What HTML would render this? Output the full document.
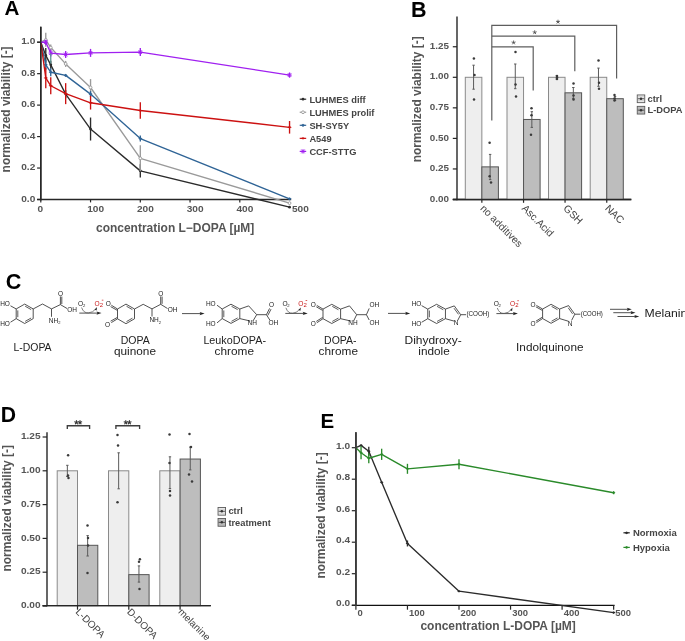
<!DOCTYPE html>
<html><head><meta charset="utf-8"><title>Figure</title>
<style>
html,body{margin:0;padding:0;background:#fff;overflow:hidden;}
svg{display:block;will-change:transform;}
text{font-family:"Liberation Sans", sans-serif;}
</style></head>
<body>
<svg width="685" height="641" viewBox="0 0 685 641">
<rect x="0" y="0" width="685" height="641" fill="#fff"/>
<text x="4.40" y="14.90" font-size="20.6" font-weight="bold" fill="#000">A</text>
<line x1="40.80" y1="26.70" x2="40.80" y2="200.20" stroke="#262626" stroke-width="1.4"/>
<line x1="37.10" y1="199.50" x2="291.20" y2="199.50" stroke="#262626" stroke-width="1.4"/>
<line x1="37.10" y1="199.50" x2="40.80" y2="199.50" stroke="#262626" stroke-width="1.2"/>
<text x="35.30" y="201.50" font-size="9.2" font-weight="bold" fill="#555" text-anchor="end" textLength="14.07" lengthAdjust="spacingAndGlyphs">0.0</text>
<line x1="37.10" y1="168.04" x2="40.80" y2="168.04" stroke="#262626" stroke-width="1.2"/>
<text x="35.30" y="170.04" font-size="9.2" font-weight="bold" fill="#555" text-anchor="end" textLength="14.07" lengthAdjust="spacingAndGlyphs">0.2</text>
<line x1="37.10" y1="136.58" x2="40.80" y2="136.58" stroke="#262626" stroke-width="1.2"/>
<text x="35.30" y="138.58" font-size="9.2" font-weight="bold" fill="#555" text-anchor="end" textLength="14.07" lengthAdjust="spacingAndGlyphs">0.4</text>
<line x1="37.10" y1="105.12" x2="40.80" y2="105.12" stroke="#262626" stroke-width="1.2"/>
<text x="35.30" y="107.12" font-size="9.2" font-weight="bold" fill="#555" text-anchor="end" textLength="14.07" lengthAdjust="spacingAndGlyphs">0.6</text>
<line x1="37.10" y1="73.66" x2="40.80" y2="73.66" stroke="#262626" stroke-width="1.2"/>
<text x="35.30" y="75.66" font-size="9.2" font-weight="bold" fill="#555" text-anchor="end" textLength="14.07" lengthAdjust="spacingAndGlyphs">0.8</text>
<line x1="37.10" y1="42.20" x2="40.80" y2="42.20" stroke="#262626" stroke-width="1.2"/>
<text x="35.30" y="44.20" font-size="9.2" font-weight="bold" fill="#555" text-anchor="end" textLength="14.07" lengthAdjust="spacingAndGlyphs">1.0</text>
<line x1="40.80" y1="199.50" x2="40.80" y2="202.40" stroke="#262626" stroke-width="1.2"/>
<text x="37.50" y="212.30" font-size="9.2" font-weight="bold" fill="#555" textLength="5.63" lengthAdjust="spacingAndGlyphs">0</text>
<line x1="90.55" y1="199.50" x2="90.55" y2="202.40" stroke="#262626" stroke-width="1.2"/>
<text x="87.25" y="212.30" font-size="9.2" font-weight="bold" fill="#555" textLength="16.88" lengthAdjust="spacingAndGlyphs">100</text>
<line x1="140.30" y1="199.50" x2="140.30" y2="202.40" stroke="#262626" stroke-width="1.2"/>
<text x="137.00" y="212.30" font-size="9.2" font-weight="bold" fill="#555" textLength="16.88" lengthAdjust="spacingAndGlyphs">200</text>
<line x1="190.05" y1="199.50" x2="190.05" y2="202.40" stroke="#262626" stroke-width="1.2"/>
<text x="186.75" y="212.30" font-size="9.2" font-weight="bold" fill="#555" textLength="16.88" lengthAdjust="spacingAndGlyphs">300</text>
<line x1="239.80" y1="199.50" x2="239.80" y2="202.40" stroke="#262626" stroke-width="1.2"/>
<text x="236.50" y="212.30" font-size="9.2" font-weight="bold" fill="#555" textLength="16.88" lengthAdjust="spacingAndGlyphs">400</text>
<text x="291.90" y="212.30" font-size="9.2" font-weight="bold" fill="#555" textLength="16.88" lengthAdjust="spacingAndGlyphs">500</text>
<text x="96.00" y="231.70" font-size="12" font-weight="bold" fill="#555" textLength="158.3" lengthAdjust="spacingAndGlyphs">concentration L−DOPA [µM]</text>
<text x="0.00" y="0.00" font-size="12" font-weight="bold" fill="#555" text-anchor="middle" textLength="126" lengthAdjust="spacingAndGlyphs" transform="translate(10.3,109.4) rotate(-90)">normalized viability [-]</text>
<polyline points="40.80,42.20 45.77,55.41 50.75,64.85 65.67,94.11 90.55,129.03 140.30,170.87 289.55,207.21" fill="none" stroke="#2b2b2b" stroke-width="1.35" stroke-linejoin="round"/>
<line x1="45.77" y1="48.11" x2="45.77" y2="62.71" stroke="#2b2b2b" stroke-width="1.35"/>
<line x1="50.75" y1="60.85" x2="50.75" y2="68.85" stroke="#2b2b2b" stroke-width="1.35"/>
<line x1="65.67" y1="90.11" x2="65.67" y2="98.11" stroke="#2b2b2b" stroke-width="1.35"/>
<line x1="90.55" y1="117.53" x2="90.55" y2="140.53" stroke="#2b2b2b" stroke-width="1.35"/>
<line x1="140.30" y1="164.27" x2="140.30" y2="177.47" stroke="#2b2b2b" stroke-width="1.35"/>
<circle cx="45.77" cy="55.41" r="1.4" fill="#2b2b2b" stroke="none" stroke-width="0"/>
<circle cx="50.75" cy="64.85" r="1.4" fill="#2b2b2b" stroke="none" stroke-width="0"/>
<circle cx="65.67" cy="94.11" r="1.4" fill="#2b2b2b" stroke="none" stroke-width="0"/>
<circle cx="90.55" cy="129.03" r="1.4" fill="#2b2b2b" stroke="none" stroke-width="0"/>
<circle cx="140.30" cy="170.87" r="1.4" fill="#2b2b2b" stroke="none" stroke-width="0"/>
<circle cx="289.55" cy="207.21" r="1.4" fill="#2b2b2b" stroke="none" stroke-width="0"/>
<polyline points="40.80,42.20 45.77,39.84 50.75,47.55 65.67,63.91 90.55,87.50 140.30,158.29 289.55,203.12" fill="none" stroke="#9a9a9a" stroke-width="1.35" stroke-linejoin="round"/>
<line x1="45.77" y1="32.84" x2="45.77" y2="46.84" stroke="#9a9a9a" stroke-width="1.35"/>
<line x1="50.75" y1="44.55" x2="50.75" y2="50.55" stroke="#9a9a9a" stroke-width="1.35"/>
<line x1="65.67" y1="60.91" x2="65.67" y2="66.91" stroke="#9a9a9a" stroke-width="1.35"/>
<line x1="90.55" y1="79.10" x2="90.55" y2="95.90" stroke="#9a9a9a" stroke-width="1.35"/>
<line x1="140.30" y1="145.29" x2="140.30" y2="171.29" stroke="#9a9a9a" stroke-width="1.35"/>
<circle cx="45.77" cy="39.84" r="1.4" fill="#fff" stroke="#9a9a9a" stroke-width="0.9"/>
<circle cx="50.75" cy="47.55" r="1.4" fill="#fff" stroke="#9a9a9a" stroke-width="0.9"/>
<circle cx="65.67" cy="63.91" r="1.4" fill="#fff" stroke="#9a9a9a" stroke-width="0.9"/>
<circle cx="90.55" cy="87.50" r="1.4" fill="#fff" stroke="#9a9a9a" stroke-width="0.9"/>
<circle cx="140.30" cy="158.29" r="1.4" fill="#fff" stroke="#9a9a9a" stroke-width="0.9"/>
<circle cx="289.55" cy="203.12" r="1.4" fill="#fff" stroke="#9a9a9a" stroke-width="0.9"/>
<polyline points="40.80,42.20 45.77,64.85 50.75,72.24 65.67,75.39 90.55,94.11 140.30,138.62 289.55,198.87" fill="none" stroke="#2f6496" stroke-width="1.35" stroke-linejoin="round"/>
<line x1="45.77" y1="59.85" x2="45.77" y2="69.85" stroke="#2f6496" stroke-width="1.35"/>
<line x1="50.75" y1="68.24" x2="50.75" y2="76.24" stroke="#2f6496" stroke-width="1.35"/>
<line x1="65.67" y1="74.39" x2="65.67" y2="76.39" stroke="#2f6496" stroke-width="1.35"/>
<line x1="90.55" y1="91.11" x2="90.55" y2="97.11" stroke="#2f6496" stroke-width="1.35"/>
<line x1="140.30" y1="135.62" x2="140.30" y2="141.62" stroke="#2f6496" stroke-width="1.35"/>
<path d="M43.77,64.85 L45.77,63.25 L47.77,64.85 L45.77,66.45Z" fill="#2f6496"/>
<path d="M48.75,72.24 L50.75,70.64 L52.75,72.24 L50.75,73.84Z" fill="#2f6496"/>
<path d="M63.67,75.39 L65.67,73.79 L67.67,75.39 L65.67,76.99Z" fill="#2f6496"/>
<path d="M88.55,94.11 L90.55,92.51 L92.55,94.11 L90.55,95.71Z" fill="#2f6496"/>
<path d="M138.30,138.62 L140.30,137.02 L142.30,138.62 L140.30,140.22Z" fill="#2f6496"/>
<path d="M287.55,198.87 L289.55,197.27 L291.55,198.87 L289.55,200.47Z" fill="#2f6496"/>
<polyline points="40.80,42.20 45.77,77.91 50.75,85.77 65.67,93.64 90.55,102.76 140.30,110.47 289.55,127.30" fill="none" stroke="#cc1111" stroke-width="1.35" stroke-linejoin="round"/>
<line x1="45.77" y1="67.61" x2="45.77" y2="88.21" stroke="#cc1111" stroke-width="1.35"/>
<line x1="50.75" y1="77.27" x2="50.75" y2="94.27" stroke="#cc1111" stroke-width="1.35"/>
<line x1="65.67" y1="83.14" x2="65.67" y2="104.14" stroke="#cc1111" stroke-width="1.35"/>
<line x1="90.55" y1="95.96" x2="90.55" y2="109.56" stroke="#cc1111" stroke-width="1.35"/>
<line x1="140.30" y1="102.27" x2="140.30" y2="118.67" stroke="#cc1111" stroke-width="1.35"/>
<line x1="289.55" y1="121.00" x2="289.55" y2="133.60" stroke="#cc1111" stroke-width="1.35"/>
<path d="M43.57,77.91 L45.77,76.71 L47.98,77.91 L45.77,79.11Z" fill="#cc1111"/>
<path d="M48.55,85.77 L50.75,84.57 L52.95,85.77 L50.75,86.97Z" fill="#cc1111"/>
<path d="M63.47,93.64 L65.67,92.44 L67.88,93.64 L65.67,94.84Z" fill="#cc1111"/>
<path d="M88.35,102.76 L90.55,101.56 L92.75,102.76 L90.55,103.96Z" fill="#cc1111"/>
<path d="M138.10,110.47 L140.30,109.27 L142.50,110.47 L140.30,111.67Z" fill="#cc1111"/>
<path d="M287.35,127.30 L289.55,126.10 L291.75,127.30 L289.55,128.50Z" fill="#cc1111"/>
<polyline points="40.80,42.20 45.77,42.20 50.75,53.05 65.67,54.47 90.55,52.90 140.30,52.11 289.55,75.08" fill="none" stroke="#a020f0" stroke-width="1.35" stroke-linejoin="round"/>
<line x1="45.77" y1="39.70" x2="45.77" y2="44.70" stroke="#a020f0" stroke-width="1.35"/>
<line x1="50.75" y1="49.55" x2="50.75" y2="56.55" stroke="#a020f0" stroke-width="1.35"/>
<line x1="65.67" y1="50.97" x2="65.67" y2="57.97" stroke="#a020f0" stroke-width="1.35"/>
<line x1="90.55" y1="48.90" x2="90.55" y2="56.90" stroke="#a020f0" stroke-width="1.35"/>
<line x1="140.30" y1="48.11" x2="140.30" y2="56.11" stroke="#a020f0" stroke-width="1.35"/>
<line x1="289.55" y1="72.58" x2="289.55" y2="77.58" stroke="#a020f0" stroke-width="1.35"/>
<line x1="43.48" y1="42.20" x2="48.07" y2="42.20" stroke="#a020f0" stroke-width="0.9"/>
<line x1="45.77" y1="39.90" x2="45.77" y2="44.50" stroke="#a020f0" stroke-width="0.9"/>
<line x1="44.07" y1="40.30" x2="47.48" y2="44.10" stroke="#a020f0" stroke-width="0.9"/>
<line x1="44.07" y1="44.10" x2="47.48" y2="40.30" stroke="#a020f0" stroke-width="0.9"/>
<line x1="48.45" y1="53.05" x2="53.05" y2="53.05" stroke="#a020f0" stroke-width="0.9"/>
<line x1="50.75" y1="50.75" x2="50.75" y2="55.35" stroke="#a020f0" stroke-width="0.9"/>
<line x1="49.05" y1="51.15" x2="52.45" y2="54.95" stroke="#a020f0" stroke-width="0.9"/>
<line x1="49.05" y1="54.95" x2="52.45" y2="51.15" stroke="#a020f0" stroke-width="0.9"/>
<line x1="63.38" y1="54.47" x2="67.97" y2="54.47" stroke="#a020f0" stroke-width="0.9"/>
<line x1="65.67" y1="52.17" x2="65.67" y2="56.77" stroke="#a020f0" stroke-width="0.9"/>
<line x1="63.97" y1="52.57" x2="67.38" y2="56.37" stroke="#a020f0" stroke-width="0.9"/>
<line x1="63.97" y1="56.37" x2="67.38" y2="52.57" stroke="#a020f0" stroke-width="0.9"/>
<line x1="88.25" y1="52.90" x2="92.85" y2="52.90" stroke="#a020f0" stroke-width="0.9"/>
<line x1="90.55" y1="50.60" x2="90.55" y2="55.20" stroke="#a020f0" stroke-width="0.9"/>
<line x1="88.85" y1="51.00" x2="92.25" y2="54.80" stroke="#a020f0" stroke-width="0.9"/>
<line x1="88.85" y1="54.80" x2="92.25" y2="51.00" stroke="#a020f0" stroke-width="0.9"/>
<line x1="138.00" y1="52.11" x2="142.60" y2="52.11" stroke="#a020f0" stroke-width="0.9"/>
<line x1="140.30" y1="49.81" x2="140.30" y2="54.41" stroke="#a020f0" stroke-width="0.9"/>
<line x1="138.60" y1="50.21" x2="142.00" y2="54.01" stroke="#a020f0" stroke-width="0.9"/>
<line x1="138.60" y1="54.01" x2="142.00" y2="50.21" stroke="#a020f0" stroke-width="0.9"/>
<line x1="287.25" y1="75.08" x2="291.85" y2="75.08" stroke="#a020f0" stroke-width="0.9"/>
<line x1="289.55" y1="72.78" x2="289.55" y2="77.38" stroke="#a020f0" stroke-width="0.9"/>
<line x1="287.85" y1="73.18" x2="291.25" y2="76.98" stroke="#a020f0" stroke-width="0.9"/>
<line x1="287.85" y1="76.98" x2="291.25" y2="73.18" stroke="#a020f0" stroke-width="0.9"/>
<line x1="50.75" y1="53.60" x2="50.75" y2="63.40" stroke="#5f9595" stroke-width="1.3"/>
<line x1="40.80" y1="26.70" x2="40.80" y2="200.20" stroke="#262626" stroke-width="1.4"/>
<line x1="37.10" y1="42.20" x2="40.80" y2="42.20" stroke="#262626" stroke-width="1.2"/>
<line x1="299.70" y1="99.20" x2="306.20" y2="99.20" stroke="#2b2b2b" stroke-width="1.2"/>
<circle cx="303.00" cy="99.20" r="1.4" fill="#2b2b2b" stroke="none" stroke-width="0"/>
<text x="309.40" y="102.50" font-size="9.3" font-weight="bold" fill="#444">LUHMES diff</text>
<line x1="299.70" y1="112.25" x2="306.20" y2="112.25" stroke="#9a9a9a" stroke-width="1.2"/>
<circle cx="303.00" cy="112.25" r="1.4" fill="#fff" stroke="#9a9a9a" stroke-width="0.9"/>
<text x="309.40" y="115.55" font-size="9.3" font-weight="bold" fill="#444">LUHMES prolif</text>
<line x1="299.70" y1="125.30" x2="306.20" y2="125.30" stroke="#2f6496" stroke-width="1.2"/>
<path d="M301.00,125.30 L303.00,123.70 L305.00,125.30 L303.00,126.90Z" fill="#2f6496"/>
<text x="309.40" y="128.60" font-size="9.3" font-weight="bold" fill="#444">SH-SY5Y</text>
<line x1="299.70" y1="138.35" x2="306.20" y2="138.35" stroke="#cc1111" stroke-width="1.2"/>
<path d="M300.80,138.35 L303.00,137.15 L305.20,138.35 L303.00,139.55Z" fill="#cc1111"/>
<text x="309.40" y="141.65" font-size="9.3" font-weight="bold" fill="#444">A549</text>
<line x1="299.70" y1="151.40" x2="306.20" y2="151.40" stroke="#a020f0" stroke-width="1.2"/>
<line x1="300.70" y1="151.40" x2="305.30" y2="151.40" stroke="#a020f0" stroke-width="0.9"/>
<line x1="303.00" y1="149.10" x2="303.00" y2="153.70" stroke="#a020f0" stroke-width="0.9"/>
<line x1="301.30" y1="149.50" x2="304.70" y2="153.30" stroke="#a020f0" stroke-width="0.9"/>
<line x1="301.30" y1="153.30" x2="304.70" y2="149.50" stroke="#a020f0" stroke-width="0.9"/>
<text x="309.40" y="154.70" font-size="9.3" font-weight="bold" fill="#444">CCF-STTG</text>
<text x="411.00" y="17.00" font-size="21.5" font-weight="bold" fill="#000">B</text>
<line x1="457.00" y1="16.40" x2="457.00" y2="200.20" stroke="#262626" stroke-width="1.4"/>
<line x1="452.80" y1="199.50" x2="631.30" y2="199.50" stroke="#262626" stroke-width="1.4"/>
<line x1="452.80" y1="199.50" x2="457.00" y2="199.50" stroke="#262626" stroke-width="1.2"/>
<text x="448.90" y="201.60" font-size="9.2" font-weight="bold" fill="#555" text-anchor="end" textLength="19.16" lengthAdjust="spacingAndGlyphs">0.00</text>
<line x1="452.80" y1="168.95" x2="457.00" y2="168.95" stroke="#262626" stroke-width="1.2"/>
<text x="448.90" y="171.05" font-size="9.2" font-weight="bold" fill="#555" text-anchor="end" textLength="19.16" lengthAdjust="spacingAndGlyphs">0.25</text>
<line x1="452.80" y1="138.40" x2="457.00" y2="138.40" stroke="#262626" stroke-width="1.2"/>
<text x="448.90" y="140.50" font-size="9.2" font-weight="bold" fill="#555" text-anchor="end" textLength="19.16" lengthAdjust="spacingAndGlyphs">0.50</text>
<line x1="452.80" y1="107.85" x2="457.00" y2="107.85" stroke="#262626" stroke-width="1.2"/>
<text x="448.90" y="109.95" font-size="9.2" font-weight="bold" fill="#555" text-anchor="end" textLength="19.16" lengthAdjust="spacingAndGlyphs">0.75</text>
<line x1="452.80" y1="77.30" x2="457.00" y2="77.30" stroke="#262626" stroke-width="1.2"/>
<text x="448.90" y="79.40" font-size="9.2" font-weight="bold" fill="#555" text-anchor="end" textLength="19.16" lengthAdjust="spacingAndGlyphs">1.00</text>
<line x1="452.80" y1="46.75" x2="457.00" y2="46.75" stroke="#262626" stroke-width="1.2"/>
<text x="448.90" y="48.85" font-size="9.2" font-weight="bold" fill="#555" text-anchor="end" textLength="19.16" lengthAdjust="spacingAndGlyphs">1.25</text>
<text x="0.00" y="0.00" font-size="12" font-weight="bold" fill="#555" text-anchor="middle" textLength="126" lengthAdjust="spacingAndGlyphs" transform="translate(421.0,99.3) rotate(-90)">normalized viability [-]</text>
<rect x="465.30" y="77.30" width="16.55" height="122.20" fill="#eeeeee" stroke="#8a8a8a" stroke-width="1.0"/>
<rect x="481.85" y="166.87" width="16.55" height="32.63" fill="#bdbdbd" stroke="#555555" stroke-width="1.0"/>
<rect x="507.00" y="77.30" width="16.55" height="122.20" fill="#eeeeee" stroke="#8a8a8a" stroke-width="1.0"/>
<rect x="523.55" y="119.46" width="16.55" height="80.04" fill="#bdbdbd" stroke="#555555" stroke-width="1.0"/>
<rect x="548.50" y="77.30" width="16.55" height="122.20" fill="#eeeeee" stroke="#8a8a8a" stroke-width="1.0"/>
<rect x="565.05" y="92.82" width="16.55" height="106.68" fill="#bdbdbd" stroke="#555555" stroke-width="1.0"/>
<rect x="590.20" y="77.30" width="16.55" height="122.20" fill="#eeeeee" stroke="#8a8a8a" stroke-width="1.0"/>
<rect x="606.75" y="98.69" width="16.55" height="100.81" fill="#bdbdbd" stroke="#555555" stroke-width="1.0"/>
<line x1="473.57" y1="65.20" x2="473.57" y2="89.20" stroke="#5a5a5a" stroke-width="1.0"/>
<line x1="472.38" y1="65.20" x2="474.77" y2="65.20" stroke="#5a5a5a" stroke-width="1.0"/>
<line x1="472.38" y1="89.20" x2="474.77" y2="89.20" stroke="#5a5a5a" stroke-width="1.0"/>
<line x1="490.12" y1="154.40" x2="490.12" y2="179.60" stroke="#5a5a5a" stroke-width="1.0"/>
<line x1="488.93" y1="154.40" x2="491.32" y2="154.40" stroke="#5a5a5a" stroke-width="1.0"/>
<line x1="488.93" y1="179.60" x2="491.32" y2="179.60" stroke="#5a5a5a" stroke-width="1.0"/>
<circle cx="473.90" cy="58.50" r="1.25" fill="#3a3a3a" stroke="none" stroke-width="0"/>
<circle cx="474.50" cy="74.90" r="1.25" fill="#3a3a3a" stroke="none" stroke-width="0"/>
<circle cx="474.00" cy="99.60" r="1.25" fill="#3a3a3a" stroke="none" stroke-width="0"/>
<circle cx="489.60" cy="142.70" r="1.25" fill="#3a3a3a" stroke="none" stroke-width="0"/>
<circle cx="489.60" cy="176.30" r="1.25" fill="#3a3a3a" stroke="none" stroke-width="0"/>
<circle cx="491.00" cy="182.60" r="1.25" fill="#3a3a3a" stroke="none" stroke-width="0"/>
<line x1="515.27" y1="64.00" x2="515.27" y2="88.70" stroke="#5a5a5a" stroke-width="1.0"/>
<line x1="514.07" y1="64.00" x2="516.48" y2="64.00" stroke="#5a5a5a" stroke-width="1.0"/>
<line x1="514.07" y1="88.70" x2="516.48" y2="88.70" stroke="#5a5a5a" stroke-width="1.0"/>
<line x1="531.83" y1="111.70" x2="531.83" y2="127.40" stroke="#5a5a5a" stroke-width="1.0"/>
<line x1="530.62" y1="111.70" x2="533.03" y2="111.70" stroke="#5a5a5a" stroke-width="1.0"/>
<line x1="530.62" y1="127.40" x2="533.03" y2="127.40" stroke="#5a5a5a" stroke-width="1.0"/>
<circle cx="515.50" cy="52.00" r="1.25" fill="#3a3a3a" stroke="none" stroke-width="0"/>
<circle cx="515.50" cy="84.60" r="1.25" fill="#3a3a3a" stroke="none" stroke-width="0"/>
<circle cx="516.00" cy="96.50" r="1.25" fill="#3a3a3a" stroke="none" stroke-width="0"/>
<circle cx="531.50" cy="108.30" r="1.25" fill="#3a3a3a" stroke="none" stroke-width="0"/>
<circle cx="531.50" cy="115.30" r="1.25" fill="#3a3a3a" stroke="none" stroke-width="0"/>
<circle cx="531.00" cy="134.70" r="1.25" fill="#3a3a3a" stroke="none" stroke-width="0"/>
<line x1="556.77" y1="75.80" x2="556.77" y2="79.00" stroke="#5a5a5a" stroke-width="1.0"/>
<line x1="555.57" y1="75.80" x2="557.98" y2="75.80" stroke="#5a5a5a" stroke-width="1.0"/>
<line x1="555.57" y1="79.00" x2="557.98" y2="79.00" stroke="#5a5a5a" stroke-width="1.0"/>
<line x1="573.33" y1="87.50" x2="573.33" y2="98.40" stroke="#5a5a5a" stroke-width="1.0"/>
<line x1="572.12" y1="87.50" x2="574.53" y2="87.50" stroke="#5a5a5a" stroke-width="1.0"/>
<line x1="572.12" y1="98.40" x2="574.53" y2="98.40" stroke="#5a5a5a" stroke-width="1.0"/>
<circle cx="557.00" cy="76.00" r="1.25" fill="#3a3a3a" stroke="none" stroke-width="0"/>
<circle cx="557.00" cy="77.50" r="1.25" fill="#3a3a3a" stroke="none" stroke-width="0"/>
<circle cx="557.00" cy="79.00" r="1.25" fill="#3a3a3a" stroke="none" stroke-width="0"/>
<circle cx="573.50" cy="83.40" r="1.25" fill="#3a3a3a" stroke="none" stroke-width="0"/>
<circle cx="573.50" cy="95.50" r="1.25" fill="#3a3a3a" stroke="none" stroke-width="0"/>
<circle cx="573.50" cy="99.60" r="1.25" fill="#3a3a3a" stroke="none" stroke-width="0"/>
<line x1="598.48" y1="68.10" x2="598.48" y2="86.30" stroke="#5a5a5a" stroke-width="1.0"/>
<line x1="597.27" y1="68.10" x2="599.68" y2="68.10" stroke="#5a5a5a" stroke-width="1.0"/>
<line x1="597.27" y1="86.30" x2="599.68" y2="86.30" stroke="#5a5a5a" stroke-width="1.0"/>
<line x1="615.03" y1="96.50" x2="615.03" y2="100.50" stroke="#5a5a5a" stroke-width="1.0"/>
<line x1="613.83" y1="96.50" x2="616.23" y2="96.50" stroke="#5a5a5a" stroke-width="1.0"/>
<line x1="613.83" y1="100.50" x2="616.23" y2="100.50" stroke="#5a5a5a" stroke-width="1.0"/>
<circle cx="598.50" cy="60.40" r="1.25" fill="#3a3a3a" stroke="none" stroke-width="0"/>
<circle cx="599.00" cy="82.70" r="1.25" fill="#3a3a3a" stroke="none" stroke-width="0"/>
<circle cx="599.00" cy="88.70" r="1.25" fill="#3a3a3a" stroke="none" stroke-width="0"/>
<circle cx="614.50" cy="95.00" r="1.25" fill="#3a3a3a" stroke="none" stroke-width="0"/>
<circle cx="614.50" cy="98.50" r="1.25" fill="#3a3a3a" stroke="none" stroke-width="0"/>
<circle cx="614.50" cy="100.50" r="1.25" fill="#3a3a3a" stroke="none" stroke-width="0"/>
<line x1="452.80" y1="199.50" x2="631.30" y2="199.50" stroke="#262626" stroke-width="1.4"/>
<line x1="481.85" y1="199.50" x2="481.85" y2="202.80" stroke="#262626" stroke-width="1.2"/>
<line x1="523.55" y1="199.50" x2="523.55" y2="202.80" stroke="#262626" stroke-width="1.2"/>
<line x1="565.05" y1="199.50" x2="565.05" y2="202.80" stroke="#262626" stroke-width="1.2"/>
<line x1="606.75" y1="199.50" x2="606.75" y2="202.80" stroke="#262626" stroke-width="1.2"/>
<path d="M491.8,120.6 V25.3 H616.6 V78.5" stroke="#5e5e5e" stroke-width="1.2" fill="none"/>
<path d="M491.8,36.2 H574.8 V71.3" stroke="#5e5e5e" stroke-width="1.2" fill="none"/>
<path d="M491.8,46.8 H533.2 V90.6" stroke="#5e5e5e" stroke-width="1.2" fill="none"/>
<path d="M558.00,21.80 L558.00,20.10 M558.00,21.80 L559.62,21.27 M558.00,21.80 L559.00,23.18 M558.00,21.80 L557.00,23.18 M558.00,21.80 L556.38,21.27 " stroke="#555" stroke-width="0.9" stroke-linecap="round" fill="none"/>
<path d="M534.70,32.40 L534.70,30.70 M534.70,32.40 L536.32,31.87 M534.70,32.40 L535.70,33.78 M534.70,32.40 L533.70,33.78 M534.70,32.40 L533.08,31.87 " stroke="#555" stroke-width="0.9" stroke-linecap="round" fill="none"/>
<path d="M513.60,42.60 L513.60,40.90 M513.60,42.60 L515.22,42.07 M513.60,42.60 L514.60,43.98 M513.60,42.60 L512.60,43.98 M513.60,42.60 L511.98,42.07 " stroke="#555" stroke-width="0.9" stroke-linecap="round" fill="none"/>
<text x="0.00" y="0.00" font-size="10.3" fill="#444" transform="translate(479.65,209.00) rotate(45)">no additives</text>
<text x="0.00" y="0.00" font-size="10.3" fill="#444" transform="translate(521.35,209.00) rotate(45)">Asc.Acid</text>
<text x="0.00" y="0.00" font-size="10.3" fill="#444" transform="translate(562.85,209.00) rotate(45)">GSH</text>
<text x="0.00" y="0.00" font-size="10.3" fill="#444" transform="translate(604.55,209.00) rotate(45)">NAC</text>
<rect x="637.25" y="94.95" width="7.50" height="7.70" fill="#eeeeee" stroke="#5a5a5a" stroke-width="0.9"/>
<line x1="637.80" y1="96.80" x2="644.20" y2="96.80" stroke="#b0b0b0" stroke-width="0.5"/>
<line x1="637.80" y1="100.70" x2="644.20" y2="100.70" stroke="#b0b0b0" stroke-width="0.5"/>
<line x1="637.80" y1="98.75" x2="644.20" y2="98.75" stroke="#444" stroke-width="0.9"/>
<circle cx="641.00" cy="98.75" r="1.25" fill="#333" stroke="none" stroke-width="0"/>
<rect x="637.25" y="106.35" width="7.50" height="7.70" fill="#bdbdbd" stroke="#5a5a5a" stroke-width="0.9"/>
<line x1="637.80" y1="108.20" x2="644.20" y2="108.20" stroke="#b0b0b0" stroke-width="0.5"/>
<line x1="637.80" y1="112.10" x2="644.20" y2="112.10" stroke="#b0b0b0" stroke-width="0.5"/>
<line x1="637.80" y1="110.15" x2="644.20" y2="110.15" stroke="#444" stroke-width="0.9"/>
<circle cx="641.00" cy="110.15" r="1.25" fill="#333" stroke="none" stroke-width="0"/>
<text x="647.60" y="101.90" font-size="9.3" font-weight="bold" fill="#444">ctrl</text>
<text x="647.60" y="112.90" font-size="9.3" font-weight="bold" fill="#444">L-DOPA</text>
<text x="5.70" y="288.50" font-size="21.6" font-weight="bold" fill="#000">C</text>
<line x1="16.20" y1="308.95" x2="24.70" y2="304.10" stroke="#333" stroke-width="0.85"/>
<line x1="24.70" y1="304.10" x2="33.20" y2="308.95" stroke="#333" stroke-width="0.85"/>
<line x1="33.20" y1="308.95" x2="33.20" y2="318.65" stroke="#333" stroke-width="0.85"/>
<line x1="33.20" y1="318.65" x2="24.70" y2="323.50" stroke="#333" stroke-width="0.85"/>
<line x1="24.70" y1="323.50" x2="16.20" y2="318.65" stroke="#333" stroke-width="0.85"/>
<line x1="16.20" y1="318.65" x2="16.20" y2="308.95" stroke="#333" stroke-width="0.85"/>
<line x1="25.17" y1="306.21" x2="31.12" y2="309.60" stroke="#333" stroke-width="0.8"/>
<line x1="31.12" y1="318.00" x2="25.17" y2="321.39" stroke="#333" stroke-width="0.8"/>
<line x1="17.80" y1="317.20" x2="17.80" y2="310.40" stroke="#333" stroke-width="0.8"/>
<line x1="16.20" y1="308.95" x2="10.50" y2="305.80" stroke="#333" stroke-width="0.85"/>
<text x="5.00" y="305.80" font-size="6.5" fill="#222" text-anchor="middle">HO</text>
<line x1="16.20" y1="318.65" x2="10.50" y2="322.20" stroke="#333" stroke-width="0.85"/>
<text x="5.00" y="325.50" font-size="6.5" fill="#222" text-anchor="middle">HO</text>
<line x1="33.20" y1="308.95" x2="42.50" y2="304.00" stroke="#333" stroke-width="0.85"/>
<line x1="42.50" y1="304.00" x2="51.50" y2="308.90" stroke="#333" stroke-width="0.85"/>
<line x1="51.50" y1="308.90" x2="60.40" y2="304.60" stroke="#333" stroke-width="0.85"/>
<line x1="60.40" y1="304.60" x2="60.40" y2="296.40" stroke="#333" stroke-width="0.85"/>
<line x1="61.80" y1="304.00" x2="61.80" y2="296.60" stroke="#333" stroke-width="0.85"/>
<text x="60.60" y="295.90" font-size="6.5" fill="#222" text-anchor="middle">O</text>
<line x1="60.40" y1="304.60" x2="67.20" y2="308.60" stroke="#333" stroke-width="0.85"/>
<text x="72.00" y="312.20" font-size="6.5" fill="#222" text-anchor="middle">OH</text>
<line x1="51.50" y1="308.90" x2="51.50" y2="316.80" stroke="#333" stroke-width="0.85"/>
<text x="54.60" y="322.80" font-size="6.5" fill="#222" text-anchor="middle">NH<tspan font-size="4" dy="1.2">2</tspan></text>
<line x1="79.30" y1="313.10" x2="98.50" y2="313.10" stroke="#333" stroke-width="0.85"/>
<path d="M101.50,313.10 L96.50,311.40 L97.50,313.10 L96.50,314.80Z" fill="#222"/>
<path d="M81.60,307.50 Q83.60,313.30 88.40,312.90 Q93.10,312.60 95.70,308.90" stroke="#555" stroke-width="0.75" fill="none"/>
<path d="M97.00,307.10 L94.70,309.80 L96.60,310.50Z" fill="#222"/>
<text x="78.10" y="305.80" font-size="6.6" fill="#222">O</text>
<text x="82.90" y="306.60" font-size="4.2" fill="#222">2</text>
<text x="94.50" y="305.80" font-size="6.6" fill="#c81818">O</text>
<text x="99.70" y="306.70" font-size="6.0" fill="#c81818">2</text>
<line x1="101.80" y1="300.20" x2="103.40" y2="300.20" stroke="#c81818" stroke-width="0.7"/>
<line x1="117.50" y1="309.00" x2="126.00" y2="304.10" stroke="#333" stroke-width="0.85"/>
<line x1="126.00" y1="304.10" x2="134.50" y2="309.00" stroke="#333" stroke-width="0.85"/>
<line x1="134.50" y1="309.00" x2="134.50" y2="318.80" stroke="#333" stroke-width="0.85"/>
<line x1="134.50" y1="318.80" x2="126.00" y2="323.70" stroke="#333" stroke-width="0.85"/>
<line x1="126.00" y1="323.70" x2="117.50" y2="318.80" stroke="#333" stroke-width="0.85"/>
<line x1="117.50" y1="318.80" x2="117.50" y2="309.00" stroke="#333" stroke-width="0.85"/>
<line x1="126.47" y1="306.22" x2="132.42" y2="309.65" stroke="#333" stroke-width="0.8"/>
<line x1="132.42" y1="318.15" x2="126.47" y2="321.58" stroke="#333" stroke-width="0.8"/>
<line x1="117.50" y1="309.00" x2="111.30" y2="305.20" stroke="#333" stroke-width="0.85"/>
<line x1="117.00" y1="310.20" x2="110.60" y2="306.60" stroke="#333" stroke-width="0.85"/>
<text x="108.20" y="305.90" font-size="6.5" fill="#222" text-anchor="middle">O</text>
<line x1="117.50" y1="318.80" x2="111.30" y2="322.60" stroke="#333" stroke-width="0.85"/>
<line x1="117.00" y1="317.60" x2="110.60" y2="321.20" stroke="#333" stroke-width="0.85"/>
<text x="107.60" y="326.80" font-size="6.5" fill="#222" text-anchor="middle">O</text>
<line x1="134.50" y1="309.00" x2="143.20" y2="304.30" stroke="#333" stroke-width="0.85"/>
<line x1="143.20" y1="304.30" x2="152.00" y2="308.90" stroke="#333" stroke-width="0.85"/>
<line x1="152.00" y1="308.90" x2="160.70" y2="304.30" stroke="#333" stroke-width="0.85"/>
<line x1="160.70" y1="304.30" x2="160.70" y2="296.40" stroke="#333" stroke-width="0.85"/>
<line x1="162.10" y1="303.80" x2="162.10" y2="296.60" stroke="#333" stroke-width="0.85"/>
<text x="160.80" y="295.50" font-size="6.5" fill="#222" text-anchor="middle">O</text>
<line x1="160.70" y1="304.30" x2="167.50" y2="308.50" stroke="#333" stroke-width="0.85"/>
<text x="172.60" y="311.80" font-size="6.5" fill="#222" text-anchor="middle">OH</text>
<line x1="152.00" y1="308.90" x2="152.00" y2="316.50" stroke="#333" stroke-width="0.85"/>
<text x="155.20" y="322.40" font-size="6.5" fill="#222" text-anchor="middle">NH<tspan font-size="4" dy="1.2">2</tspan></text>
<line x1="182.00" y1="313.60" x2="201.60" y2="313.60" stroke="#333" stroke-width="0.85"/>
<path d="M204.60,313.60 L199.60,311.90 L200.60,313.60 L199.60,315.30Z" fill="#222"/>
<line x1="222.20" y1="309.00" x2="231.00" y2="304.20" stroke="#333" stroke-width="0.85"/>
<line x1="231.00" y1="304.20" x2="239.80" y2="309.00" stroke="#333" stroke-width="0.85"/>
<line x1="239.80" y1="309.00" x2="239.80" y2="318.60" stroke="#333" stroke-width="0.85"/>
<line x1="239.80" y1="318.60" x2="231.00" y2="323.40" stroke="#333" stroke-width="0.85"/>
<line x1="231.00" y1="323.40" x2="222.20" y2="318.60" stroke="#333" stroke-width="0.85"/>
<line x1="222.20" y1="318.60" x2="222.20" y2="309.00" stroke="#333" stroke-width="0.85"/>
<line x1="231.49" y1="306.29" x2="237.65" y2="309.65" stroke="#333" stroke-width="0.8"/>
<line x1="237.65" y1="317.95" x2="231.49" y2="321.31" stroke="#333" stroke-width="0.8"/>
<line x1="223.80" y1="317.16" x2="223.80" y2="310.44" stroke="#333" stroke-width="0.8"/>
<line x1="239.80" y1="309.00" x2="248.70" y2="305.90" stroke="#333" stroke-width="0.85"/>
<line x1="248.70" y1="305.90" x2="256.70" y2="314.70" stroke="#333" stroke-width="0.85"/>
<line x1="256.70" y1="314.70" x2="253.20" y2="320.60" stroke="#333" stroke-width="0.85"/>
<line x1="250.20" y1="321.00" x2="239.80" y2="318.60" stroke="#333" stroke-width="0.85"/>
<text x="252.30" y="325.40" font-size="6.5" fill="#222" text-anchor="middle">NH</text>
<line x1="256.70" y1="314.70" x2="266.40" y2="314.70" stroke="#333" stroke-width="0.85"/>
<line x1="266.40" y1="314.70" x2="269.60" y2="308.40" stroke="#333" stroke-width="0.85"/>
<line x1="267.80" y1="315.40" x2="271.00" y2="309.20" stroke="#333" stroke-width="0.85"/>
<text x="271.60" y="307.40" font-size="6.5" fill="#222" text-anchor="middle">O</text>
<line x1="266.40" y1="314.70" x2="270.00" y2="320.30" stroke="#333" stroke-width="0.85"/>
<text x="273.40" y="325.10" font-size="6.5" fill="#222" text-anchor="middle">OH</text>
<line x1="222.20" y1="309.00" x2="217.00" y2="305.20" stroke="#333" stroke-width="0.85"/>
<text x="210.80" y="306.20" font-size="6.5" fill="#222" text-anchor="middle">HO</text>
<line x1="222.20" y1="318.60" x2="217.00" y2="322.90" stroke="#333" stroke-width="0.85"/>
<text x="210.80" y="325.80" font-size="6.5" fill="#222" text-anchor="middle">HO</text>
<line x1="285.30" y1="313.40" x2="304.70" y2="313.40" stroke="#333" stroke-width="0.85"/>
<path d="M307.70,313.40 L302.70,311.70 L303.70,313.40 L302.70,315.10Z" fill="#222"/>
<path d="M285.90,307.80 Q287.90,313.60 292.70,313.20 Q297.40,312.90 299.50,309.20" stroke="#555" stroke-width="0.75" fill="none"/>
<path d="M300.80,307.40 L298.50,310.10 L300.40,310.80Z" fill="#222"/>
<text x="282.40" y="306.10" font-size="6.6" fill="#222">O</text>
<text x="287.20" y="306.90" font-size="4.2" fill="#222">2</text>
<text x="298.30" y="306.10" font-size="6.6" fill="#c81818">O</text>
<text x="303.50" y="307.00" font-size="6.0" fill="#c81818">2</text>
<line x1="305.60" y1="300.50" x2="307.20" y2="300.50" stroke="#c81818" stroke-width="0.7"/>
<line x1="323.00" y1="309.10" x2="331.80" y2="304.30" stroke="#333" stroke-width="0.85"/>
<line x1="331.80" y1="304.30" x2="340.60" y2="309.10" stroke="#333" stroke-width="0.85"/>
<line x1="340.60" y1="309.10" x2="340.60" y2="318.70" stroke="#333" stroke-width="0.85"/>
<line x1="340.60" y1="318.70" x2="331.80" y2="323.50" stroke="#333" stroke-width="0.85"/>
<line x1="331.80" y1="323.50" x2="323.00" y2="318.70" stroke="#333" stroke-width="0.85"/>
<line x1="323.00" y1="318.70" x2="323.00" y2="309.10" stroke="#333" stroke-width="0.85"/>
<line x1="332.29" y1="306.39" x2="338.45" y2="309.75" stroke="#333" stroke-width="0.8"/>
<line x1="338.45" y1="318.05" x2="332.29" y2="321.41" stroke="#333" stroke-width="0.8"/>
<line x1="323.00" y1="309.10" x2="316.80" y2="305.40" stroke="#333" stroke-width="0.85"/>
<line x1="322.60" y1="310.40" x2="316.30" y2="306.80" stroke="#333" stroke-width="0.85"/>
<text x="313.40" y="306.50" font-size="6.5" fill="#222" text-anchor="middle">O</text>
<line x1="323.00" y1="318.70" x2="316.80" y2="322.80" stroke="#333" stroke-width="0.85"/>
<line x1="322.60" y1="317.40" x2="316.30" y2="321.40" stroke="#333" stroke-width="0.85"/>
<text x="313.40" y="326.20" font-size="6.5" fill="#222" text-anchor="middle">O</text>
<line x1="340.60" y1="309.10" x2="349.50" y2="305.90" stroke="#333" stroke-width="0.85"/>
<line x1="349.50" y1="305.90" x2="356.70" y2="314.70" stroke="#333" stroke-width="0.85"/>
<line x1="356.70" y1="314.70" x2="353.80" y2="320.60" stroke="#333" stroke-width="0.85"/>
<line x1="350.80" y1="321.00" x2="340.60" y2="318.70" stroke="#333" stroke-width="0.85"/>
<text x="353.00" y="325.40" font-size="6.5" fill="#222" text-anchor="middle">NH</text>
<line x1="356.70" y1="314.70" x2="366.40" y2="314.70" stroke="#333" stroke-width="0.85"/>
<line x1="366.40" y1="314.70" x2="369.20" y2="308.40" stroke="#333" stroke-width="0.85"/>
<line x1="366.40" y1="314.70" x2="369.20" y2="320.00" stroke="#333" stroke-width="0.85"/>
<text x="374.40" y="307.20" font-size="6.5" fill="#222" text-anchor="middle">OH</text>
<text x="374.40" y="324.90" font-size="6.5" fill="#222" text-anchor="middle">OH</text>
<line x1="388.00" y1="313.40" x2="407.20" y2="313.40" stroke="#333" stroke-width="0.85"/>
<path d="M410.20,313.40 L405.20,311.70 L406.20,313.40 L405.20,315.10Z" fill="#222"/>
<line x1="427.75" y1="309.10" x2="436.60" y2="304.30" stroke="#333" stroke-width="0.85"/>
<line x1="436.60" y1="304.30" x2="445.45" y2="309.10" stroke="#333" stroke-width="0.85"/>
<line x1="445.45" y1="309.10" x2="445.45" y2="318.70" stroke="#333" stroke-width="0.85"/>
<line x1="445.45" y1="318.70" x2="436.60" y2="323.50" stroke="#333" stroke-width="0.85"/>
<line x1="436.60" y1="323.50" x2="427.75" y2="318.70" stroke="#333" stroke-width="0.85"/>
<line x1="427.75" y1="318.70" x2="427.75" y2="309.10" stroke="#333" stroke-width="0.85"/>
<line x1="437.09" y1="306.38" x2="443.28" y2="309.74" stroke="#333" stroke-width="0.8"/>
<line x1="443.28" y1="318.06" x2="437.09" y2="321.42" stroke="#333" stroke-width="0.8"/>
<line x1="429.35" y1="317.26" x2="429.35" y2="310.54" stroke="#333" stroke-width="0.8"/>
<line x1="427.75" y1="309.10" x2="421.60" y2="305.60" stroke="#333" stroke-width="0.85"/>
<text x="416.50" y="305.80" font-size="6.5" fill="#222" text-anchor="middle">HO</text>
<line x1="427.75" y1="318.70" x2="421.60" y2="322.30" stroke="#333" stroke-width="0.85"/>
<text x="416.50" y="325.80" font-size="6.5" fill="#222" text-anchor="middle">HO</text>
<line x1="445.45" y1="309.10" x2="454.30" y2="305.90" stroke="#333" stroke-width="0.85"/>
<line x1="454.30" y1="305.90" x2="460.70" y2="314.70" stroke="#333" stroke-width="0.85"/>
<line x1="453.99" y1="308.19" x2="458.47" y2="314.35" stroke="#333" stroke-width="0.8"/>
<line x1="460.70" y1="314.70" x2="457.60" y2="320.60" stroke="#333" stroke-width="0.85"/>
<line x1="454.40" y1="321.20" x2="445.45" y2="318.70" stroke="#333" stroke-width="0.85"/>
<text x="456.00" y="324.90" font-size="6.5" fill="#222" text-anchor="middle">N</text>
<line x1="460.70" y1="314.70" x2="466.00" y2="314.70" stroke="#333" stroke-width="0.85"/>
<text x="466.40" y="315.90" font-size="6.5" fill="#222" textLength="23.0" lengthAdjust="spacingAndGlyphs">(COOH)</text>
<line x1="496.40" y1="313.60" x2="514.90" y2="313.60" stroke="#333" stroke-width="0.85"/>
<path d="M517.90,313.60 L512.90,311.90 L513.90,313.60 L512.90,315.30Z" fill="#222"/>
<path d="M497.30,308.00 Q499.30,313.80 504.10,313.40 Q508.80,313.10 511.20,309.40" stroke="#555" stroke-width="0.75" fill="none"/>
<path d="M512.50,307.60 L510.20,310.30 L512.10,311.00Z" fill="#222"/>
<text x="493.80" y="306.30" font-size="6.6" fill="#222">O</text>
<text x="498.60" y="307.10" font-size="4.2" fill="#222">2</text>
<text x="510.00" y="306.30" font-size="6.6" fill="#c81818">O</text>
<text x="515.20" y="307.20" font-size="6.0" fill="#c81818">2</text>
<line x1="517.30" y1="300.70" x2="518.90" y2="300.70" stroke="#c81818" stroke-width="0.7"/>
<line x1="542.60" y1="309.05" x2="551.10" y2="304.30" stroke="#333" stroke-width="0.85"/>
<line x1="551.10" y1="304.30" x2="559.60" y2="309.05" stroke="#333" stroke-width="0.85"/>
<line x1="559.60" y1="309.05" x2="559.60" y2="318.55" stroke="#333" stroke-width="0.85"/>
<line x1="559.60" y1="318.55" x2="551.10" y2="323.30" stroke="#333" stroke-width="0.85"/>
<line x1="551.10" y1="323.30" x2="542.60" y2="318.55" stroke="#333" stroke-width="0.85"/>
<line x1="542.60" y1="318.55" x2="542.60" y2="309.05" stroke="#333" stroke-width="0.85"/>
<line x1="551.56" y1="306.39" x2="557.51" y2="309.71" stroke="#333" stroke-width="0.8"/>
<line x1="557.51" y1="317.89" x2="551.56" y2="321.21" stroke="#333" stroke-width="0.8"/>
<line x1="542.60" y1="309.05" x2="536.40" y2="305.40" stroke="#333" stroke-width="0.85"/>
<line x1="542.20" y1="310.35" x2="535.90" y2="306.80" stroke="#333" stroke-width="0.85"/>
<text x="533.00" y="306.50" font-size="6.5" fill="#222" text-anchor="middle">O</text>
<line x1="542.60" y1="318.55" x2="536.40" y2="322.60" stroke="#333" stroke-width="0.85"/>
<line x1="542.20" y1="317.25" x2="535.90" y2="321.20" stroke="#333" stroke-width="0.85"/>
<text x="533.00" y="326.00" font-size="6.5" fill="#222" text-anchor="middle">O</text>
<line x1="559.60" y1="309.05" x2="568.60" y2="305.60" stroke="#333" stroke-width="0.85"/>
<line x1="568.60" y1="305.60" x2="574.80" y2="314.20" stroke="#333" stroke-width="0.85"/>
<line x1="568.23" y1="307.82" x2="572.57" y2="313.84" stroke="#333" stroke-width="0.8"/>
<line x1="574.80" y1="314.20" x2="571.60" y2="320.40" stroke="#333" stroke-width="0.85"/>
<line x1="568.60" y1="321.30" x2="559.60" y2="318.55" stroke="#333" stroke-width="0.85"/>
<text x="570.20" y="325.50" font-size="6.5" fill="#222" text-anchor="middle">N</text>
<line x1="574.80" y1="314.20" x2="580.30" y2="314.20" stroke="#333" stroke-width="0.85"/>
<text x="580.70" y="315.90" font-size="6.5" fill="#222" textLength="22.2" lengthAdjust="spacingAndGlyphs">(COOH)</text>
<line x1="610.00" y1="309.30" x2="628.80" y2="309.30" stroke="#333" stroke-width="0.85"/>
<path d="M631.80,309.30 L626.80,307.70 L627.80,309.30 L626.80,310.90Z" fill="#222"/>
<line x1="613.30" y1="312.70" x2="632.50" y2="312.70" stroke="#333" stroke-width="0.85"/>
<path d="M635.50,312.70 L630.50,311.10 L631.50,312.70 L630.50,314.30Z" fill="#222"/>
<line x1="617.50" y1="316.50" x2="636.30" y2="316.50" stroke="#333" stroke-width="0.85"/>
<path d="M639.30,316.50 L634.30,314.90 L635.30,316.50 L634.30,318.10Z" fill="#222"/>
<text x="644.50" y="316.80" font-size="11.5" fill="#222" textLength="42.8" lengthAdjust="spacingAndGlyphs">Melanin</text>
<text x="13.40" y="350.70" font-size="11.2" fill="#222" textLength="38.2" lengthAdjust="spacingAndGlyphs">L-DOPA</text>
<text x="135.20" y="343.80" font-size="11.2" fill="#222" text-anchor="middle" textLength="29.0" lengthAdjust="spacingAndGlyphs">DOPA</text>
<text x="135.00" y="354.50" font-size="11.2" fill="#222" text-anchor="middle" textLength="42.0" lengthAdjust="spacingAndGlyphs">quinone</text>
<text x="234.70" y="343.80" font-size="11.2" fill="#222" text-anchor="middle" textLength="62.6" lengthAdjust="spacingAndGlyphs">LeukoDOPA-</text>
<text x="234.30" y="354.50" font-size="11.2" fill="#222" text-anchor="middle" textLength="39.4" lengthAdjust="spacingAndGlyphs">chrome</text>
<text x="340.30" y="343.60" font-size="11.2" fill="#222" text-anchor="middle" textLength="32.4" lengthAdjust="spacingAndGlyphs">DOPA-</text>
<text x="338.30" y="354.50" font-size="11.2" fill="#222" text-anchor="middle" textLength="39.4" lengthAdjust="spacingAndGlyphs">chrome</text>
<text x="433.10" y="343.80" font-size="11.2" fill="#222" text-anchor="middle" textLength="57.2" lengthAdjust="spacingAndGlyphs">Dihydroxy-</text>
<text x="434.00" y="354.50" font-size="11.2" fill="#222" text-anchor="middle" textLength="31.4" lengthAdjust="spacingAndGlyphs">indole</text>
<text x="549.80" y="351.30" font-size="11.2" fill="#222" text-anchor="middle" textLength="67.4" lengthAdjust="spacingAndGlyphs">Indolquinone</text>
<text x="0.80" y="422.20" font-size="21.2" font-weight="bold" fill="#000">D</text>
<line x1="47.00" y1="432.20" x2="47.00" y2="606.30" stroke="#262626" stroke-width="1.4"/>
<line x1="42.60" y1="605.60" x2="210.80" y2="605.60" stroke="#262626" stroke-width="1.4"/>
<line x1="42.60" y1="606.00" x2="47.00" y2="606.00" stroke="#262626" stroke-width="1.2"/>
<text x="40.60" y="608.10" font-size="9.2" font-weight="bold" fill="#555" text-anchor="end" textLength="19.69" lengthAdjust="spacingAndGlyphs">0.00</text>
<line x1="42.60" y1="572.20" x2="47.00" y2="572.20" stroke="#262626" stroke-width="1.2"/>
<text x="40.60" y="574.30" font-size="9.2" font-weight="bold" fill="#555" text-anchor="end" textLength="19.69" lengthAdjust="spacingAndGlyphs">0.25</text>
<line x1="42.60" y1="538.40" x2="47.00" y2="538.40" stroke="#262626" stroke-width="1.2"/>
<text x="40.60" y="540.50" font-size="9.2" font-weight="bold" fill="#555" text-anchor="end" textLength="19.69" lengthAdjust="spacingAndGlyphs">0.50</text>
<line x1="42.60" y1="504.60" x2="47.00" y2="504.60" stroke="#262626" stroke-width="1.2"/>
<text x="40.60" y="506.70" font-size="9.2" font-weight="bold" fill="#555" text-anchor="end" textLength="19.69" lengthAdjust="spacingAndGlyphs">0.75</text>
<line x1="42.60" y1="470.80" x2="47.00" y2="470.80" stroke="#262626" stroke-width="1.2"/>
<text x="40.60" y="472.90" font-size="9.2" font-weight="bold" fill="#555" text-anchor="end" textLength="19.69" lengthAdjust="spacingAndGlyphs">1.00</text>
<line x1="42.60" y1="437.00" x2="47.00" y2="437.00" stroke="#262626" stroke-width="1.2"/>
<text x="40.60" y="439.10" font-size="9.2" font-weight="bold" fill="#555" text-anchor="end" textLength="19.69" lengthAdjust="spacingAndGlyphs">1.25</text>
<text x="0.00" y="0.00" font-size="12" font-weight="bold" fill="#555" text-anchor="middle" textLength="126.6" lengthAdjust="spacingAndGlyphs" transform="translate(11.3,508.3) rotate(-90)">normalized viability [-]</text>
<rect x="57.20" y="470.80" width="20.30" height="134.80" fill="#eeeeee" stroke="#8a8a8a" stroke-width="1.0"/>
<rect x="77.50" y="545.30" width="20.30" height="60.30" fill="#bdbdbd" stroke="#555555" stroke-width="1.0"/>
<rect x="108.50" y="470.80" width="20.30" height="134.80" fill="#eeeeee" stroke="#8a8a8a" stroke-width="1.0"/>
<rect x="128.80" y="574.63" width="20.30" height="30.97" fill="#bdbdbd" stroke="#555555" stroke-width="1.0"/>
<rect x="159.80" y="470.80" width="20.30" height="134.80" fill="#eeeeee" stroke="#8a8a8a" stroke-width="1.0"/>
<rect x="180.10" y="459.04" width="20.30" height="146.56" fill="#bdbdbd" stroke="#555555" stroke-width="1.0"/>
<line x1="67.35" y1="465.30" x2="67.35" y2="476.50" stroke="#5a5a5a" stroke-width="1.0"/>
<line x1="66.15" y1="465.30" x2="68.55" y2="465.30" stroke="#5a5a5a" stroke-width="1.0"/>
<line x1="66.15" y1="476.50" x2="68.55" y2="476.50" stroke="#5a5a5a" stroke-width="1.0"/>
<line x1="87.65" y1="535.60" x2="87.65" y2="556.00" stroke="#5a5a5a" stroke-width="1.0"/>
<line x1="86.45" y1="535.60" x2="88.85" y2="535.60" stroke="#5a5a5a" stroke-width="1.0"/>
<line x1="86.45" y1="556.00" x2="88.85" y2="556.00" stroke="#5a5a5a" stroke-width="1.0"/>
<circle cx="68.10" cy="455.30" r="1.25" fill="#3a3a3a" stroke="none" stroke-width="0"/>
<circle cx="68.00" cy="475.60" r="1.25" fill="#3a3a3a" stroke="none" stroke-width="0"/>
<circle cx="68.50" cy="478.00" r="1.25" fill="#3a3a3a" stroke="none" stroke-width="0"/>
<circle cx="87.50" cy="525.60" r="1.25" fill="#3a3a3a" stroke="none" stroke-width="0"/>
<circle cx="88.00" cy="538.00" r="1.25" fill="#3a3a3a" stroke="none" stroke-width="0"/>
<circle cx="88.00" cy="545.60" r="1.25" fill="#3a3a3a" stroke="none" stroke-width="0"/>
<circle cx="87.50" cy="573.00" r="1.25" fill="#3a3a3a" stroke="none" stroke-width="0"/>
<line x1="118.65" y1="452.80" x2="118.65" y2="488.80" stroke="#5a5a5a" stroke-width="1.0"/>
<line x1="117.45" y1="452.80" x2="119.85" y2="452.80" stroke="#5a5a5a" stroke-width="1.0"/>
<line x1="117.45" y1="488.80" x2="119.85" y2="488.80" stroke="#5a5a5a" stroke-width="1.0"/>
<line x1="138.95" y1="565.90" x2="138.95" y2="582.10" stroke="#5a5a5a" stroke-width="1.0"/>
<line x1="137.75" y1="565.90" x2="140.15" y2="565.90" stroke="#5a5a5a" stroke-width="1.0"/>
<line x1="137.75" y1="582.10" x2="140.15" y2="582.10" stroke="#5a5a5a" stroke-width="1.0"/>
<circle cx="117.50" cy="435.00" r="1.25" fill="#3a3a3a" stroke="none" stroke-width="0"/>
<circle cx="118.00" cy="445.60" r="1.25" fill="#3a3a3a" stroke="none" stroke-width="0"/>
<circle cx="117.50" cy="502.20" r="1.25" fill="#3a3a3a" stroke="none" stroke-width="0"/>
<circle cx="139.90" cy="559.30" r="1.25" fill="#3a3a3a" stroke="none" stroke-width="0"/>
<circle cx="139.00" cy="561.80" r="1.25" fill="#3a3a3a" stroke="none" stroke-width="0"/>
<circle cx="139.50" cy="589.00" r="1.25" fill="#3a3a3a" stroke="none" stroke-width="0"/>
<line x1="169.95" y1="456.80" x2="169.95" y2="488.60" stroke="#5a5a5a" stroke-width="1.0"/>
<line x1="168.75" y1="456.80" x2="171.15" y2="456.80" stroke="#5a5a5a" stroke-width="1.0"/>
<line x1="168.75" y1="488.60" x2="171.15" y2="488.60" stroke="#5a5a5a" stroke-width="1.0"/>
<line x1="190.25" y1="447.10" x2="190.25" y2="469.90" stroke="#5a5a5a" stroke-width="1.0"/>
<line x1="189.05" y1="447.10" x2="191.45" y2="447.10" stroke="#5a5a5a" stroke-width="1.0"/>
<line x1="189.05" y1="469.90" x2="191.45" y2="469.90" stroke="#5a5a5a" stroke-width="1.0"/>
<circle cx="169.50" cy="434.60" r="1.25" fill="#3a3a3a" stroke="none" stroke-width="0"/>
<circle cx="169.50" cy="463.00" r="1.25" fill="#3a3a3a" stroke="none" stroke-width="0"/>
<circle cx="170.00" cy="491.00" r="1.25" fill="#3a3a3a" stroke="none" stroke-width="0"/>
<circle cx="170.00" cy="495.40" r="1.25" fill="#3a3a3a" stroke="none" stroke-width="0"/>
<circle cx="189.50" cy="434.00" r="1.25" fill="#3a3a3a" stroke="none" stroke-width="0"/>
<circle cx="191.00" cy="447.10" r="1.25" fill="#3a3a3a" stroke="none" stroke-width="0"/>
<circle cx="189.00" cy="474.50" r="1.25" fill="#3a3a3a" stroke="none" stroke-width="0"/>
<circle cx="192.00" cy="481.40" r="1.25" fill="#3a3a3a" stroke="none" stroke-width="0"/>
<line x1="42.60" y1="605.60" x2="210.80" y2="605.60" stroke="#262626" stroke-width="1.4"/>
<line x1="77.50" y1="605.60" x2="77.50" y2="609.70" stroke="#262626" stroke-width="1.2"/>
<line x1="128.80" y1="605.60" x2="128.80" y2="609.70" stroke="#262626" stroke-width="1.2"/>
<line x1="180.10" y1="605.60" x2="180.10" y2="609.70" stroke="#262626" stroke-width="1.2"/>
<path d="M67.3,428.9 V425.7 H89.6 V428.9" stroke="#3d3d3d" stroke-width="1.35" fill="none"/>
<path d="M115.9,428.9 V425.7 H139.6 V428.9" stroke="#3d3d3d" stroke-width="1.35" fill="none"/>
<path d="M76.40,422.40 L76.40,420.60 M76.40,422.40 L78.11,421.84 M76.40,422.40 L77.46,423.86 M76.40,422.40 L75.34,423.86 M76.40,422.40 L74.69,421.84 " stroke="#333" stroke-width="1.05" stroke-linecap="round" fill="none"/>
<path d="M80.00,422.40 L80.00,420.60 M80.00,422.40 L81.71,421.84 M80.00,422.40 L81.06,423.86 M80.00,422.40 L78.94,423.86 M80.00,422.40 L78.29,421.84 " stroke="#333" stroke-width="1.05" stroke-linecap="round" fill="none"/>
<path d="M125.80,422.40 L125.80,420.60 M125.80,422.40 L127.51,421.84 M125.80,422.40 L126.86,423.86 M125.80,422.40 L124.74,423.86 M125.80,422.40 L124.09,421.84 " stroke="#333" stroke-width="1.05" stroke-linecap="round" fill="none"/>
<path d="M129.40,422.40 L129.40,420.60 M129.40,422.40 L131.11,421.84 M129.40,422.40 L130.46,423.86 M129.40,422.40 L128.34,423.86 M129.40,422.40 L127.69,421.84 " stroke="#333" stroke-width="1.05" stroke-linecap="round" fill="none"/>
<text x="0.00" y="0.00" font-size="10.0" fill="#444" transform="translate(75.10,612.60) rotate(45)">L-DOPA</text>
<text x="0.00" y="0.00" font-size="10.0" fill="#444" transform="translate(126.40,612.60) rotate(45)">D-DOPA</text>
<text x="0.00" y="0.00" font-size="10.0" fill="#444" transform="translate(177.70,612.60) rotate(45)">melanine</text>
<rect x="218.05" y="507.45" width="7.50" height="7.70" fill="#eeeeee" stroke="#5a5a5a" stroke-width="0.9"/>
<line x1="218.60" y1="509.30" x2="225.00" y2="509.30" stroke="#b0b0b0" stroke-width="0.5"/>
<line x1="218.60" y1="513.20" x2="225.00" y2="513.20" stroke="#b0b0b0" stroke-width="0.5"/>
<line x1="218.60" y1="511.25" x2="225.00" y2="511.25" stroke="#444" stroke-width="0.9"/>
<circle cx="221.80" cy="511.25" r="1.25" fill="#333" stroke="none" stroke-width="0"/>
<rect x="218.05" y="518.55" width="7.50" height="7.70" fill="#bdbdbd" stroke="#5a5a5a" stroke-width="0.9"/>
<line x1="218.60" y1="520.40" x2="225.00" y2="520.40" stroke="#b0b0b0" stroke-width="0.5"/>
<line x1="218.60" y1="524.30" x2="225.00" y2="524.30" stroke="#b0b0b0" stroke-width="0.5"/>
<line x1="218.60" y1="522.35" x2="225.00" y2="522.35" stroke="#444" stroke-width="0.9"/>
<circle cx="221.80" cy="522.35" r="1.25" fill="#333" stroke="none" stroke-width="0"/>
<text x="228.40" y="514.40" font-size="9.3" font-weight="bold" fill="#444">ctrl</text>
<text x="228.40" y="525.50" font-size="9.3" font-weight="bold" fill="#444">treatment</text>
<text x="320.60" y="427.70" font-size="20.5" font-weight="bold" fill="#000">E</text>
<line x1="355.90" y1="432.20" x2="355.90" y2="606.00" stroke="#3a3a3a" stroke-width="1.6"/>
<line x1="351.80" y1="605.30" x2="614.60" y2="605.30" stroke="#111" stroke-width="1.2"/>
<line x1="351.80" y1="605.20" x2="355.90" y2="605.20" stroke="#262626" stroke-width="1.2"/>
<text x="350.20" y="606.30" font-size="9.2" font-weight="bold" fill="#555" text-anchor="end" textLength="14.07" lengthAdjust="spacingAndGlyphs">0.0</text>
<line x1="351.80" y1="573.70" x2="355.90" y2="573.70" stroke="#262626" stroke-width="1.2"/>
<text x="350.20" y="574.80" font-size="9.2" font-weight="bold" fill="#555" text-anchor="end" textLength="14.07" lengthAdjust="spacingAndGlyphs">0.2</text>
<line x1="351.80" y1="542.20" x2="355.90" y2="542.20" stroke="#262626" stroke-width="1.2"/>
<text x="350.20" y="543.30" font-size="9.2" font-weight="bold" fill="#555" text-anchor="end" textLength="14.07" lengthAdjust="spacingAndGlyphs">0.4</text>
<line x1="351.80" y1="510.70" x2="355.90" y2="510.70" stroke="#262626" stroke-width="1.2"/>
<text x="350.20" y="511.80" font-size="9.2" font-weight="bold" fill="#555" text-anchor="end" textLength="14.07" lengthAdjust="spacingAndGlyphs">0.6</text>
<line x1="351.80" y1="479.20" x2="355.90" y2="479.20" stroke="#262626" stroke-width="1.2"/>
<text x="350.20" y="480.30" font-size="9.2" font-weight="bold" fill="#555" text-anchor="end" textLength="14.07" lengthAdjust="spacingAndGlyphs">0.8</text>
<line x1="351.80" y1="447.70" x2="355.90" y2="447.70" stroke="#262626" stroke-width="1.2"/>
<text x="350.20" y="448.80" font-size="9.2" font-weight="bold" fill="#555" text-anchor="end" textLength="14.07" lengthAdjust="spacingAndGlyphs">1.0</text>
<line x1="355.90" y1="605.30" x2="355.90" y2="609.70" stroke="#262626" stroke-width="1.2"/>
<text x="357.50" y="615.80" font-size="8.6" font-weight="bold" fill="#555" textLength="5.26" lengthAdjust="spacingAndGlyphs">0</text>
<line x1="407.45" y1="605.30" x2="407.45" y2="609.70" stroke="#262626" stroke-width="1.2"/>
<text x="409.05" y="615.80" font-size="8.6" font-weight="bold" fill="#555" textLength="15.78" lengthAdjust="spacingAndGlyphs">100</text>
<line x1="459.00" y1="605.30" x2="459.00" y2="609.70" stroke="#262626" stroke-width="1.2"/>
<text x="460.60" y="615.80" font-size="8.6" font-weight="bold" fill="#555" textLength="15.78" lengthAdjust="spacingAndGlyphs">200</text>
<line x1="510.55" y1="605.30" x2="510.55" y2="609.70" stroke="#262626" stroke-width="1.2"/>
<text x="512.15" y="615.80" font-size="8.6" font-weight="bold" fill="#555" textLength="15.78" lengthAdjust="spacingAndGlyphs">300</text>
<line x1="562.10" y1="605.30" x2="562.10" y2="609.70" stroke="#262626" stroke-width="1.2"/>
<text x="563.70" y="615.80" font-size="8.6" font-weight="bold" fill="#555" textLength="15.78" lengthAdjust="spacingAndGlyphs">400</text>
<line x1="613.65" y1="605.30" x2="613.65" y2="609.70" stroke="#262626" stroke-width="1.2"/>
<text x="615.25" y="615.80" font-size="8.6" font-weight="bold" fill="#555" textLength="15.78" lengthAdjust="spacingAndGlyphs">500</text>
<text x="420.40" y="630.00" font-size="12" font-weight="bold" fill="#555" textLength="155.4" lengthAdjust="spacingAndGlyphs">concentration L-DOPA [µM]</text>
<text x="0.00" y="0.00" font-size="12" font-weight="bold" fill="#555" text-anchor="middle" textLength="126.2" lengthAdjust="spacingAndGlyphs" transform="translate(325.3,515.4) rotate(-90)">normalized viability [-]</text>
<polyline points="355.90,447.70 361.05,445.34 368.79,451.17 381.67,482.35 407.45,543.46 459.00,591.18 613.65,612.60" fill="none" stroke="#2b2b2b" stroke-width="1.35" stroke-linejoin="round"/>
<path d="M359.25,445.34 L361.05,444.04 L362.85,445.34 L361.05,446.64Z" fill="#2b2b2b"/>
<line x1="368.79" y1="446.67" x2="368.79" y2="455.67" stroke="#2b2b2b" stroke-width="1.35"/>
<path d="M366.99,451.17 L368.79,449.87 L370.59,451.17 L368.79,452.47Z" fill="#2b2b2b"/>
<path d="M379.87,482.35 L381.67,481.05 L383.47,482.35 L381.67,483.65Z" fill="#2b2b2b"/>
<line x1="407.45" y1="540.46" x2="407.45" y2="546.46" stroke="#2b2b2b" stroke-width="1.35"/>
<path d="M405.65,543.46 L407.45,542.16 L409.25,543.46 L407.45,544.76Z" fill="#2b2b2b"/>
<path d="M457.20,591.18 L459.00,589.88 L460.80,591.18 L459.00,592.48Z" fill="#2b2b2b"/>
<path d="M611.85,612.60 L613.65,611.30 L615.45,612.60 L613.65,613.90Z" fill="#2b2b2b"/>
<polyline points="355.90,447.70 361.05,452.74 368.79,458.25 381.67,454.32 407.45,468.81 459.00,464.24 613.65,492.75" fill="none" stroke="#2a8a2a" stroke-width="1.35" stroke-linejoin="round"/>
<line x1="361.05" y1="446.24" x2="361.05" y2="459.24" stroke="#2a8a2a" stroke-width="1.35"/>
<path d="M359.25,452.74 L361.05,451.44 L362.85,452.74 L361.05,454.04Z" fill="#2a8a2a"/>
<line x1="368.79" y1="453.25" x2="368.79" y2="463.25" stroke="#2a8a2a" stroke-width="1.35"/>
<path d="M366.99,458.25 L368.79,456.95 L370.59,458.25 L368.79,459.55Z" fill="#2a8a2a"/>
<line x1="381.67" y1="448.72" x2="381.67" y2="459.92" stroke="#2a8a2a" stroke-width="1.35"/>
<path d="M379.87,454.32 L381.67,453.02 L383.47,454.32 L381.67,455.62Z" fill="#2a8a2a"/>
<line x1="407.45" y1="463.81" x2="407.45" y2="473.81" stroke="#2a8a2a" stroke-width="1.35"/>
<path d="M405.65,468.81 L407.45,467.51 L409.25,468.81 L407.45,470.11Z" fill="#2a8a2a"/>
<line x1="459.00" y1="459.24" x2="459.00" y2="469.24" stroke="#2a8a2a" stroke-width="1.35"/>
<path d="M457.20,464.24 L459.00,462.94 L460.80,464.24 L459.00,465.54Z" fill="#2a8a2a"/>
<line x1="613.65" y1="491.25" x2="613.65" y2="494.25" stroke="#2a8a2a" stroke-width="1.35"/>
<path d="M611.85,492.75 L613.65,491.45 L615.45,492.75 L613.65,494.05Z" fill="#2a8a2a"/>
<line x1="355.90" y1="432.20" x2="355.90" y2="606.00" stroke="#3a3a3a" stroke-width="1.6"/>
<line x1="623.40" y1="532.80" x2="629.80" y2="532.80" stroke="#2b2b2b" stroke-width="1.2"/>
<path d="M624.40,532.80 L626.6,531.40 L628.80,532.80 L626.6,534.20Z" fill="#2b2b2b"/>
<text x="632.90" y="535.90" font-size="9.5" font-weight="bold" fill="#444">Normoxia</text>
<line x1="623.40" y1="547.40" x2="629.80" y2="547.40" stroke="#2a8a2a" stroke-width="1.2"/>
<path d="M624.40,547.40 L626.6,546.00 L628.80,547.40 L626.6,548.80Z" fill="#2a8a2a"/>
<text x="632.90" y="550.50" font-size="9.5" font-weight="bold" fill="#444">Hypoxia</text>
</svg>
</body></html>
